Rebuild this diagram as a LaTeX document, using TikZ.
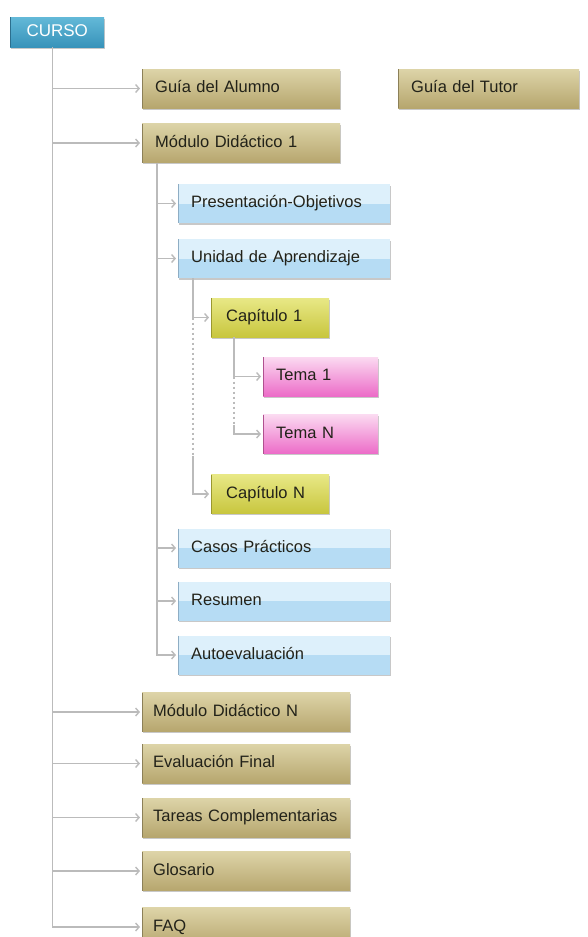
\documentclass[tikz,border=0pt]{standalone}
\usepackage{fontspec}
\setmainfont{Liberation Sans}
\usetikzlibrary{arrows.meta,shadows}

\definecolor{lineg}{HTML}{BBBBBB}
\definecolor{boxtext}{HTML}{222219}
\definecolor{brtop}{HTML}{DDD4A8}
\definecolor{brbot}{HTML}{B6A66E}
\definecolor{bredge}{HTML}{8C8058}
\definecolor{bltop}{HTML}{DDF0FB}
\definecolor{blbot}{HTML}{B6DCF4}
\definecolor{bledge}{HTML}{8EADC4}
\definecolor{yetop}{HTML}{E8E886}
\definecolor{yebot}{HTML}{C8C63E}
\definecolor{yeedge}{HTML}{9A982E}
\definecolor{pktop}{HTML}{FBDAF1}
\definecolor{pkbot}{HTML}{EC6CC8}
\definecolor{pkedge}{HTML}{B0508F}
\definecolor{cutop}{HTML}{63B9D8}
\definecolor{cubot}{HTML}{3893BA}
\definecolor{cuedge}{HTML}{2C6F8E}

\tikzset{
  box/.style={rectangle, anchor=west, inner xsep=13pt, minimum height=39pt,
    text height=12pt, text depth=3.5pt, align=left, text=boxtext,
    font=\fontsize{16.5}{18}\selectfont,
    drop shadow={shadow xshift=0.8pt, shadow yshift=-1.5pt, opacity=.3, fill=black!70}},
  leftedge/.style={path picture={\draw[#1, line width=2.5pt]
    (path picture bounding box.north west) -- (path picture bounding box.south west);}},
  brownbox/.style={box, top color=brtop, bottom color=brbot, leftedge=bredge, text width=#1},
  brownbox/.default=172pt,
  bluebox/.style={box, fill=bltop, text width=186pt,
    path picture={\fill[blbot] (path picture bounding box.west) rectangle (path picture bounding box.south east);
      \draw[bledge, line width=2.5pt] (path picture bounding box.north west) -- (path picture bounding box.south west);}},
  yellowbox/.style={box, top color=yetop, bottom color=yebot, leftedge=yeedge, text width=88pt, inner xsep=15pt},
  pinkbox/.style={box, top color=pktop, bottom color=pkbot, leftedge=pkedge, text width=89pt},
  cursobox/.style={box, top color=cutop, bottom color=cubot, leftedge=cuedge, text=white,
    font=\fontsize{17}{18}\selectfont, minimum height=30pt, text width=68pt, align=center},
  lowbox/.style={brownbox=186pt, inner xsep=11pt},
  conn/.style={draw=lineg, line width=1.4pt, -{Straight Barb[length=3.5pt,width=8pt]}, shorten >=2pt},
  dotline/.style={draw=lineg, line width=1.4pt, dash pattern=on 2pt off 3pt}
}

\begin{document}
\begin{tikzpicture}[x=1pt,y=-1pt]
	\useasboundingbox[fill=white] (0,0) rectangle (587,937);
	% top level
	\node[cursobox] (curso) at (10,32) {CURSO};
	\node[brownbox] (gal) at (142,88.5) {Guía del Alumno};
	\node[brownbox=155pt] (gtu) at (398,88.5) {Guía del Tutor};
	\node[brownbox] (mod1) at (142,143) {Módulo Didáctico 1};
	% modulo 1
	\node[bluebox] (pres) at (178,203.5) {Presentación-Objetivos};
	\node[bluebox] (unid) at (178,258.5) {Unidad de Aprendizaje};
	\node[yellowbox] (cap1) at (211,317.5) {Capítulo 1};
	\node[pinkbox] (tema1) at (263,376.5) {Tema 1};
	\node[pinkbox] (temaN) at (263,434) {Tema N};
	\node[yellowbox] (capN) at (211,494) {Capítulo N};
	\node[bluebox] (casos) at (178,548) {Casos Prácticos};
	\node[bluebox] (resumen) at (178,601) {Resumen};
	\node[bluebox] (auto) at (178,655) {Autoevaluación};
	% rest
	\node[lowbox] (modN) at (142,712) {Módulo Didáctico N};
	\node[lowbox] (eval) at (142,763.5) {Evaluación Final};
	\node[lowbox] (tareas) at (142,817.5) {Tareas Complementarias};
	\node[lowbox] (glos) at (142,871) {Glosario};
	\node[lowbox] (faq) at (142,927) {FAQ};

	% connectors
	\coordinate (t0) at ([xshift=-5pt]curso.south);
	\foreach \n in {gal,mod1,modN,eval,tareas,glos,faq}
		\draw[conn] (t0) |- (\n.west);
	\coordinate (t1) at ([xshift=15pt]mod1.south west);
	\foreach \n in {pres,unid,casos,resumen,auto}
		\draw[conn] (t1) |- (\n.west);
	\coordinate (t2) at ([xshift=15pt]unid.south west);
	\draw[conn] (t2) |- (cap1.west);
	\draw[dotline] (t2 |- cap1.west) -- ++(0,138) coordinate (t2b);
	\draw[conn] (t2b) |- (capN.west);
	\coordinate (t3) at ([xshift=23pt]cap1.south west);
	\draw[conn] (t3) |- (tema1.west);
	\draw[dotline] (t3 |- tema1.west) -- ++(0,48) coordinate (t3b);
	\draw[conn] (t3b) |- (temaN.west);
\end{tikzpicture}
\end{document}
